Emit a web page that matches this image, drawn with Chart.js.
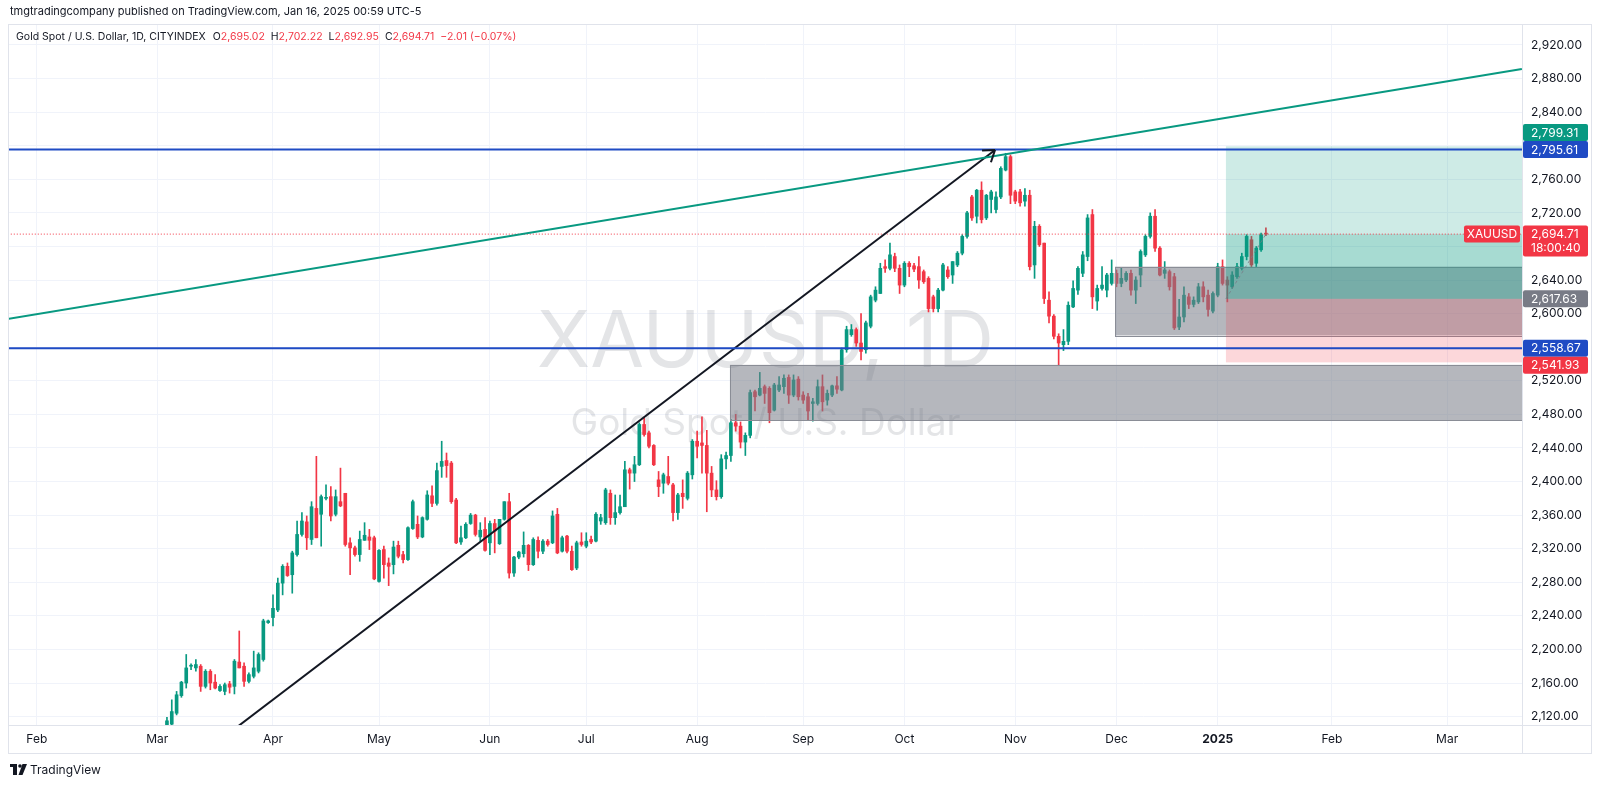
<!DOCTYPE html>
<html>
<head>
<meta charset="utf-8">
<script src="https://cdn.jsdelivr.net/npm/chart.js@4.4.1/dist/chart.umd.min.js"></script>
<style>
  html, body { margin: 0; padding: 0; background: #fff; }
  canvas { display: block; }
</style>
</head>
<body>
<canvas id="chartXau" width="1600" height="785"></canvas>
<script>
// XAUUSD daily candles, bar index 0 = 1 Apr 2024 (trading days)
const FIRST_BAR = -22;
const opens = [
  2109,2111,2124,2145,2160,2180,2178,2180,2156,2174,
  2161,2151,2150,2159,2156,2185,2180,2162,2168,2174,
  2188,2232,2238,2247,2279,2299,2289,2313,2337,2352,
  2331,2368,2361,2380,2382,2361,2376,2386,2327,2321,
  2313,2330,2334,2333,2281,2319,2303,2301,2324,2313,
  2307,2344,2349,2334,2355,2383,2374,2418,2425,2422,
  2378,2328,2333,2350,2360,2334,2343,2327,2350,2326,
  2355,2376,2291,2310,2314,2324,2301,2330,2317,2329,
  2327,2361,2317,2335,2317,2297,2328,2323,2331,2329,
  2353,2351,2386,2357,2363,2370,2414,2410,2420,2468,
  2458,2443,2402,2398,2406,2396,2363,2386,2380,2408,
  2448,2446,2443,2410,2390,2382,2427,2431,2470,2466,
  2447,2455,2507,2503,2513,2511,2485,2509,2513,2524,
  2503,2522,2503,2501,2493,2493,2513,2497,2503,2514,
  2509,2557,2575,2581,2565,2557,2585,2616,2624,2656,
  2654,2668,2654,2634,2660,2657,2656,2650,2642,2620,
  2606,2628,2652,2646,2658,2672,2692,2739,2716,2747,
  2714,2736,2724,2739,2771,2787,2745,2745,2734,2741,
  2658,2704,2684,2616,2597,2573,2563,2567,2608,2628,
  2648,2668,2718,2615,2630,2628,2636,2648,2636,2640,
  2648,2628,2646,2670,2692,2716,2678,2648,2650,2644,
  2584,2596,2620,2611,2614,2632,2622,2603,2622,2656,
  2640,2632,2644,2654,2668,2688,2660,2676,2695.02
];
const highs = [
  2119,2140,2150,2162,2194,2183,2188,2182,2176,2176,
  2170,2158,2160,2162,2188,2222,2184,2172,2198,2196,
  2236,2235,2265,2285,2301,2303,2317,2353,2363,2359,
  2376,2430,2384,2396,2394,2390,2416,2386,2333,2323,
  2341,2351,2343,2335,2319,2323,2309,2329,2329,2317,
  2346,2378,2359,2358,2389,2395,2422,2448,2434,2424,
  2380,2347,2351,2362,2361,2351,2357,2353,2355,2355,
  2376,2386,2311,2317,2340,2325,2333,2334,2331,2331,
  2365,2368,2335,2336,2323,2329,2339,2339,2335,2363,
  2361,2392,2390,2384,2384,2424,2416,2430,2470,2476,
  2460,2444,2412,2410,2430,2398,2386,2402,2412,2450,
  2460,2477,2461,2418,2401,2432,2435,2474,2480,2471,
  2458,2509,2509,2530,2515,2513,2517,2525,2527,2527,
  2527,2525,2507,2505,2499,2521,2527,2509,2515,2525,
  2559,2585,2587,2583,2600,2591,2622,2632,2660,2664,
  2684,2672,2658,2662,2662,2660,2668,2652,2644,2622,
  2630,2660,2656,2662,2674,2694,2722,2741,2748,2757,
  2742,2747,2745,2775,2791,2789,2747,2748,2749,2747,
  2710,2706,2684,2626,2599,2576,2581,2614,2639,2656,
  2674,2718,2724,2634,2656,2648,2664,2652,2654,2650,
  2652,2644,2676,2694,2720,2724,2680,2662,2652,2648,
  2617,2632,2624,2620,2636,2638,2628,2626,2660,2664,
  2644,2650,2660,2672,2694,2692,2680,2696,2702.22
];
const lows = [
  2108,2109,2122,2143,2154,2176,2174,2150,2154,2152,
  2153,2150,2146,2148,2147,2178,2156,2160,2166,2172,
  2186,2231,2228,2245,2265,2287,2267,2311,2335,2319,
  2325,2333,2323,2378,2353,2359,2370,2323,2289,2311,
  2305,2330,2319,2283,2280,2285,2276,2290,2309,2303,
  2306,2343,2332,2333,2354,2370,2372,2405,2405,2374,
  2326,2325,2332,2349,2335,2329,2317,2313,2315,2325,
  2354,2285,2287,2308,2310,2294,2300,2309,2314,2323,
  2326,2314,2316,2315,2294,2295,2323,2321,2326,2328,
  2349,2349,2349,2349,2361,2370,2391,2400,2419,2454,
  2440,2419,2382,2386,2396,2353,2355,2368,2378,2403,
  2428,2410,2364,2382,2378,2380,2415,2424,2460,2440,
  2431,2452,2484,2502,2493,2470,2484,2507,2505,2493,
  2501,2497,2493,2473,2472,2491,2484,2491,2501,2505,
  2508,2554,2573,2561,2545,2553,2583,2614,2624,2649,
  2652,2650,2624,2632,2644,2650,2630,2636,2602,2602,
  2602,2627,2642,2636,2656,2670,2690,2711,2708,2708,
  2712,2720,2720,2737,2770,2731,2731,2728,2728,2652,
  2642,2680,2612,2589,2570,2539,2556,2563,2607,2623,
  2644,2663,2606,2604,2628,2620,2634,2632,2632,2638,
  2622,2612,2632,2668,2690,2674,2645,2642,2628,2581,
  2581,2590,2606,2608,2612,2614,2597,2601,2620,2634,
  2614,2630,2642,2652,2664,2656,2656,2674,2692.95
];
const closes = [
  2115,2126,2146,2161,2178,2181,2182,2156,2174,2160,
  2154,2156,2158,2155,2186,2178,2162,2170,2178,2194,
  2234,2234,2249,2279,2299,2288,2315,2337,2353,2333,
  2370,2333,2382,2381,2359,2382,2371,2325,2321,2313,
  2331,2336,2330,2284,2318,2301,2299,2322,2311,2307,
  2345,2376,2334,2357,2384,2374,2413,2424,2419,2376,
  2327,2333,2349,2360,2337,2342,2318,2350,2341,2355,
  2376,2291,2310,2316,2324,2301,2331,2317,2329,2325,
  2359,2315,2333,2317,2295,2327,2325,2329,2328,2361,
  2357,2390,2357,2363,2370,2414,2410,2420,2468,2456,
  2442,2420,2394,2408,2398,2363,2384,2382,2410,2448,
  2442,2443,2410,2390,2382,2427,2431,2470,2466,2447,
  2455,2506,2501,2511,2505,2482,2515,2515,2523,2503,
  2521,2501,2497,2484,2495,2513,2495,2505,2514,2510,
  2557,2581,2581,2565,2555,2589,2620,2628,2654,2654,
  2670,2654,2634,2660,2656,2653,2640,2638,2606,2606,
  2628,2658,2644,2662,2672,2692,2720,2714,2747,2712,
  2741,2745,2739,2773,2787,2741,2734,2732,2741,2656,
  2704,2682,2618,2597,2573,2565,2567,2610,2630,2654,
  2670,2714,2620,2630,2634,2646,2648,2636,2642,2648,
  2628,2640,2674,2692,2716,2678,2646,2652,2632,2583,
  2596,2622,2611,2616,2632,2620,2605,2624,2656,2636,
  2634,2646,2656,2668,2692,2658,2678,2694,2694.71
];

// time axis: month labels and the bar index where each starts
const monthLabels = ['Feb', 'Mar', 'Apr', 'May', 'Jun', 'Jul', 'Aug', 'Sep', 'Oct', 'Nov', 'Dec', '2025', 'Feb', 'Mar'];
const monthBars = [-49, -24, 0, 22, 45, 65, 88, 110, 131, 154, 175, 196, 219.7, 243.6];
const priceTicks = [2120, 2160, 2200, 2240, 2280, 2320, 2360, 2400, 2440, 2480, 2520, 2560, 2600,
  2640, 2680, 2720, 2760, 2800, 2840, 2880, 2920];

// drawings
const hLevels = [2795.61, 2558.67];
const trendBars = [-54.8, 259.1];
const trendPrices = [2593.8, 2891.4];
const arrowBars = [-8, 149.8];
const arrowPrices = [2105.2, 2795];
const boxStart = [174.7, 94.8];
const boxLow = [2574, 2473];
const boxHigh = [2656, 2539];
const posStart = 197.7;
const posEntry = 2617.63;
const posTarget = 2799.31;
const posStop = 2541.93;

const UP = '#089981';
const DOWN = '#f23645';
const BLUE = '#1f4bc4';
const FONT = 'Inter, "Noto Sans", sans-serif';
const TEXT = '#131722';

const lastIdx = closes.length - 1;
const barColors = closes.map((c, i) => c >= opens[i] ? UP : DOWN);
const bodies = opens.map((o, i) => ({ x: FIRST_BAR + i, y: [o, closes[i]] }));
const wicks = lows.map((l, i) => ({ x: FIRST_BAR + i, y: [l, highs[i]] }));
const fmt = v => v.toLocaleString('en-US', { minimumFractionDigits: 2, maximumFractionDigits: 2 });

const lineSet = (data, color, width, extra) => Object.assign({
  type: 'line', data: data, borderColor: color, borderWidth: width,
  pointRadius: 0, fill: false, tension: 0, order: 2
}, extra || {});

const overlay = {
  id: 'overlay',
  beforeDatasetsDraw(chart) {
    const { ctx, chartArea: a } = chart;
    const cx = (a.left + a.right) / 2;
    ctx.save();
    ctx.fillStyle = 'rgba(120,123,134,0.2)';
    ctx.textAlign = 'center';
    ctx.textBaseline = 'alphabetic';
    ctx.font = '78px ' + FONT;
    ctx.fillText('XAUUSD, 1D', cx, 367);
    ctx.font = '37px ' + FONT;
    ctx.fillText('Gold Spot / U.S. Dollar', cx, 435);
    ctx.restore();
  },
  afterDatasetDraw(chart, args) {
    if (args.index !== 1) return;
    const { ctx, chartArea: a, scales: { x, y } } = chart;
    ctx.save();
    ctx.beginPath();
    ctx.rect(a.left, a.top, a.right - a.left, a.bottom - a.top);
    ctx.clip();
    boxStart.forEach((b, k) => {
      const x0 = x.getPixelForValue(b);
      const y0 = y.getPixelForValue(boxHigh[k]);
      const y1 = y.getPixelForValue(boxLow[k]);
      ctx.fillStyle = 'rgba(120,123,134,0.55)';
      ctx.fillRect(x0, y0, a.right - x0, y1 - y0);
      ctx.strokeStyle = '#8a8d96';
      ctx.lineWidth = 1;
      ctx.strokeRect(Math.round(x0) + 0.5, Math.round(y0) + 0.5, a.right - x0, Math.round(y1 - y0));
    });
    // long position: target / stop zones, plus the open-profit band
    const px0 = x.getPixelForValue(posStart);
    const yT = y.getPixelForValue(posTarget);
    const yE = y.getPixelForValue(posEntry);
    const yS = y.getPixelForValue(posStop);
    const yC = y.getPixelForValue(closes[lastIdx]);
    ctx.fillStyle = 'rgba(8,153,129,0.2)';
    ctx.fillRect(px0, yT, a.right - px0, yE - yT);
    ctx.fillRect(px0, yC, a.right - px0, yE - yC);
    ctx.fillStyle = 'rgba(242,54,69,0.2)';
    ctx.fillRect(px0, yE, a.right - px0, yS - yE);
    ctx.restore();
  },
  afterDatasetsDraw(chart) {
    const { ctx, scales: { x, y } } = chart;
    // arrow head at the end of the black trend arrow
    const x1 = x.getPixelForValue(arrowBars[1]), y1 = y.getPixelForValue(arrowPrices[1]);
    const x0 = x.getPixelForValue(arrowBars[0]), y0 = y.getPixelForValue(arrowPrices[0]);
    const ang = Math.atan2(y1 - y0, x1 - x0);
    ctx.save();
    ctx.strokeStyle = '#131722';
    ctx.lineWidth = 2;
    ctx.beginPath();
    [0.6, -0.6].forEach(d => {
      ctx.moveTo(x1, y1);
      ctx.lineTo(x1 - 13 * Math.cos(ang + d), y1 - 13 * Math.sin(ang + d));
    });
    ctx.stroke();
    ctx.restore();
  },
  afterDraw(chart) {
    const { ctx, chartArea: a, scales: { y } } = chart;
    ctx.save();
    // pane frame
    ctx.strokeStyle = '#e0e3eb';
    ctx.lineWidth = 1;
    ctx.strokeRect(8.5, 24.5, 1583, 729);
    ctx.beginPath();
    ctx.moveTo(a.right + 0.5, 24); ctx.lineTo(a.right + 0.5, 754);
    ctx.moveTo(8, a.bottom + 0.5); ctx.lineTo(1592, a.bottom + 0.5);
    ctx.stroke();

    // price tags on the axis
    const tag = (yc, text, bg, text2) => {
      const h = text2 ? 31 : 17;
      const top = yc - 8.5;
      ctx.fillStyle = bg;
      ctx.beginPath();
      ctx.roundRect(a.right + 1, top, 65, h, 2);
      ctx.fill();
      ctx.fillStyle = '#fff';
      ctx.font = '12px ' + FONT;
      ctx.textAlign = 'left';
      ctx.textBaseline = 'middle';
      ctx.fillText(text, a.right + 9, yc + 0.5);
      if (text2) ctx.fillText(text2, a.right + 9, yc + 14.5);
    };
    const yH1 = y.getPixelForValue(hLevels[0]);
    const yH2 = y.getPixelForValue(hLevels[1]);
    const push = (p, fixed) => {
      const v = y.getPixelForValue(p);
      if (Math.abs(v - fixed) < 17) return v < fixed ? fixed - 17 : fixed + 17;
      return v;
    };
    tag(push(posTarget, yH1), fmt(posTarget), UP);
    tag(yH1, fmt(hLevels[0]), BLUE);
    tag(y.getPixelForValue(posEntry), fmt(posEntry), '#787b86');
    tag(yH2, fmt(hLevels[1]), BLUE);
    tag(push(posStop, yH2), fmt(posStop), DOWN);
    const yLast = y.getPixelForValue(closes[lastIdx]);
    tag(yLast, fmt(closes[lastIdx]), DOWN, '18:00:40');
    // symbol tag left of the axis
    ctx.fillStyle = DOWN;
    ctx.beginPath();
    ctx.roundRect(a.right - 58, yLast - 8.5, 56, 17, 2);
    ctx.fill();
    ctx.fillStyle = '#fff';
    ctx.textAlign = 'center';
    ctx.fillText('XAUUSD', a.right - 30, yLast + 0.5);

    // header
    ctx.textAlign = 'left';
    ctx.textBaseline = 'middle';
    ctx.fillStyle = TEXT;
    ctx.font = '11px ' + FONT;
    ctx.fillText('tmgtradingcompany published on TradingView.com, Jan 16, 2025 00:59 UTC-5', 10, 12);

    // legend row
    ctx.font = '10.5px ' + FONT;
    let lx = 16;
    const put = (s, c, gap) => {
      ctx.fillStyle = c;
      ctx.fillText(s, lx, 37);
      lx += ctx.measureText(s).width + gap;
    };
    put('Gold Spot / U.S. Dollar, 1D, CITYINDEX', TEXT, 7);
    [['O', opens], ['H', highs], ['L', lows], ['C', closes]].forEach(([k, arr]) => {
      put(k, TEXT, 0);
      put(fmt(arr[lastIdx]), DOWN, 6);
    });
    put('\u22122.01 (\u22120.07%)', DOWN, 0);

    // footer logo
    ctx.fillStyle = TEXT;
    ctx.fillRect(10, 764, 7, 3);
    ctx.fillRect(13, 764, 4, 11);
    ctx.beginPath();
    ctx.arc(20, 766, 1.8, 0, Math.PI * 2);
    ctx.fill();
    ctx.beginPath();
    ctx.moveTo(22.5, 764); ctx.lineTo(27, 764); ctx.lineTo(22.5, 775); ctx.lineTo(18.5, 775);
    ctx.closePath();
    ctx.fill();
    ctx.font = '12px ' + FONT;
    ctx.fillText('TradingView', 30, 770);
    ctx.restore();
  }
};

new Chart(document.getElementById('chartXau').getContext('2d'), {
  type: 'bar',
  data: {
    datasets: [
      { type: 'bar', data: wicks, backgroundColor: barColors, barThickness: 1, grouped: false, order: 6 },
      { type: 'bar', data: bodies, backgroundColor: barColors, barThickness: 3, minBarLength: 1, grouped: false, order: 5 },
      lineSet([{ x: trendBars[0], y: trendPrices[0] }, { x: trendBars[1], y: trendPrices[1] }], UP, 2),
      lineSet([{ x: -60, y: hLevels[0] }, { x: 270, y: hLevels[0] }], BLUE, 2),
      lineSet([{ x: -60, y: hLevels[1] }, { x: 270, y: hLevels[1] }], BLUE, 2),
      lineSet([{ x: arrowBars[0], y: arrowPrices[0] }, { x: arrowBars[1], y: arrowPrices[1] }], '#131722', 2),
      lineSet([{ x: -60, y: closes[lastIdx] }, { x: 270, y: closes[lastIdx] }], DOWN, 1, { borderDash: [1, 2] }),
      lineSet([{ x: posStart, y: posEntry }, { x: FIRST_BAR + lastIdx, y: closes[lastIdx] }], 'rgba(120,123,134,0.8)', 1, { borderDash: [3, 3] })
    ]
  },
  options: {
    responsive: false,
    animation: false,
    layout: { padding: { left: 9, right: 0, top: 24, bottom: 32 } },
    plugins: { legend: { display: false }, tooltip: { enabled: false } },
    scales: {
      x: {
        type: 'linear', min: -54.77, max: 259.13, offset: false,
        grid: { color: '#f0f3fa', drawTicks: false, offset: false },
        border: { display: false },
        afterBuildTicks: s => { s.ticks = monthBars.map(v => ({ value: v })); },
        afterFit: s => { s.height = 28; },
        ticks: {
          autoSkip: false, maxRotation: 0, padding: 7, color: TEXT,
          callback: (v, i) => monthLabels[i],
          font: c => ({ family: FONT, size: 12, weight: (c.tick && c.tick.value === 196) ? 'bold' : 'normal' })
        }
      },
      y: {
        type: 'linear', position: 'right', min: 2110, max: 2945,
        grid: { color: '#f0f3fa', drawTicks: false },
        border: { display: false },
        afterBuildTicks: s => { s.ticks = priceTicks.map(v => ({ value: v })); },
        afterFit: s => { s.width = 78; },
        ticks: { autoSkip: false, padding: 9, color: TEXT, font: { family: FONT, size: 12 }, callback: v => fmt(v) }
      }
    }
  },
  plugins: [overlay]
});
</script>
</body>
</html>
